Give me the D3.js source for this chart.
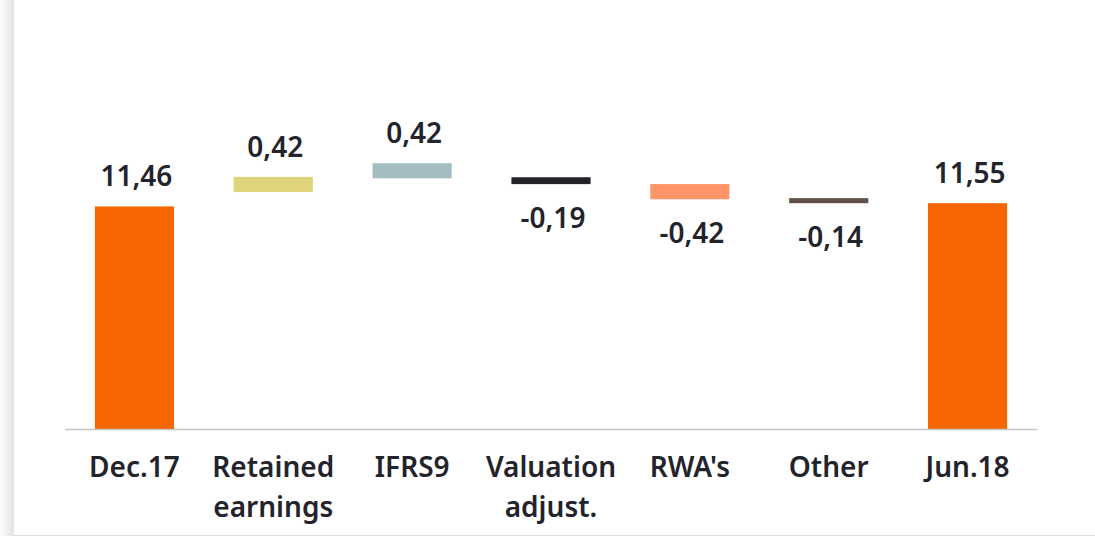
<!DOCTYPE html>
<html>
<head>
  <meta charset="utf-8" />
  <title>CET1 waterfall</title>
  <style type="text/css">
    body {
      margin: 0;
      background: #ffffff;
      font-family: 'Noto Sans', 'Open Sans', sans-serif;
    }
    #chart {
      width: 1095px;
      height: 536px;
    }
  </style>
</head>
<body>

  <div id="chart"></div>

  <script src="https://d3js.org/d3.v7.min.js"></script>
  <script>
  // chart values
  var categories = ['Dec.17', 'Retained\nearnings', 'IFRS9', 'Valuation\nadjust.', "RWA's", 'Other', 'Jun.18'];
  var values = [11.46, 0.42, 0.42, -0.19, -0.42, -0.14, 11.55];
  var isTotal = [true, false, false, false, false, false, true];
  // level each floating bar starts from, as drawn
  var startLevels = [0, 11.86, 12.24, 12.27, 12.08, 11.69, 0];
  var valueLabels = ['11,46', '0,42', '0,42', '-0,19', '-0,42', '-0,14', '11,55'];
  var colors = ['#f56600', '#dfd47b', '#a4bdc2', '#222228', '#ff9467', '#605048', '#f56600'];

  var width = 1095, height = 536;
  var baseY = 429;

  var svg = d3.select('#chart').append('svg')
    .attr('width', width)
    .attr('height', height);

  // card shadow on the left + bottom rule
  var defs = svg.append('defs');
  var grad = defs.append('linearGradient').attr('id', 'shadow');
  grad.append('stop').attr('offset', '0%').attr('stop-color', '#ffffff');
  grad.append('stop').attr('offset', '100%').attr('stop-color', '#e2e2e2');
  svg.append('rect').attr('x', 0).attr('y', 0).attr('width', 14).attr('height', height)
    .attr('fill', 'url(#shadow)');
  svg.append('line')
    .attr('x1', 14).attr('x2', width).attr('y1', 535.5).attr('y2', 535.5)
    .attr('stroke', '#dcdcdc').attr('stroke-width', 1);

  var x = d3.scaleBand()
    .domain(d3.range(categories.length))
    .range([65, 1037])
    .paddingInner(0.43)
    .paddingOuter(0.215);

  // the value axis does not start at zero
  var y = d3.scaleLinear()
    .domain([5.28, 13.61])
    .range([baseY, 129]);

  var bars = categories.map(function (c, i) {
    var lo, hi;
    if (isTotal[i]) {
      lo = y.domain()[0];
      hi = values[i];
    } else {
      lo = Math.min(startLevels[i], startLevels[i] + values[i]);
      hi = Math.max(startLevels[i], startLevels[i] + values[i]);
    }
    return { i: i, lo: lo, hi: hi, v: values[i] };
  });

  svg.append('g').selectAll('rect')
    .data(bars)
    .enter()
    .append('rect')
    .attr('x', function (d) { return x(d.i); })
    .attr('width', x.bandwidth())
    .attr('y', function (d) { return y(d.hi); })
    .attr('height', function (d) { return y(d.lo) - y(d.hi); })
    .attr('fill', function (d) { return colors[d.i]; });

  // baseline
  svg.append('line')
    .attr('x1', x.range()[0]).attr('x2', x.range()[1])
    .attr('y1', baseY + 0.5).attr('y2', baseY + 0.5)
    .attr('stroke', '#c4c4c4').attr('stroke-width', 1.6);

  // value labels
  svg.append('g').selectAll('text')
    .data(bars)
    .enter()
    .append('text')
    .attr('x', function (d) { return x(d.i) + x.bandwidth() / 2 + 2; })
    .attr('y', function (d) {
      return d.v >= 0 ? y(d.hi) - 20 : y(d.lo) + 44;
    })
    .attr('text-anchor', 'middle')
    .attr('font-size', 28)
    .attr('font-weight', 600)
    .attr('fill', '#23232b')
    .text(function (d) { return valueLabels[d.i]; });

  // category labels
  var cat = svg.append('g').selectAll('text')
    .data(categories)
    .enter()
    .append('text')
    .attr('x', function (d, i) { return x(i) + x.bandwidth() / 2; })
    .attr('y', 477)
    .attr('text-anchor', 'middle')
    .attr('font-size', 28)
    .attr('font-weight', 600)
    .attr('fill', '#23232b');

  cat.selectAll('tspan')
    .data(function (d) { return d.split('\n'); })
    .enter()
    .append('tspan')
    .attr('x', function () { return d3.select(this.parentNode).attr('x'); })
    .attr('dy', function (d, j) { return j === 0 ? 0 : 40; })
    .text(function (d) { return d; });
  </script>
</body>
</html>
